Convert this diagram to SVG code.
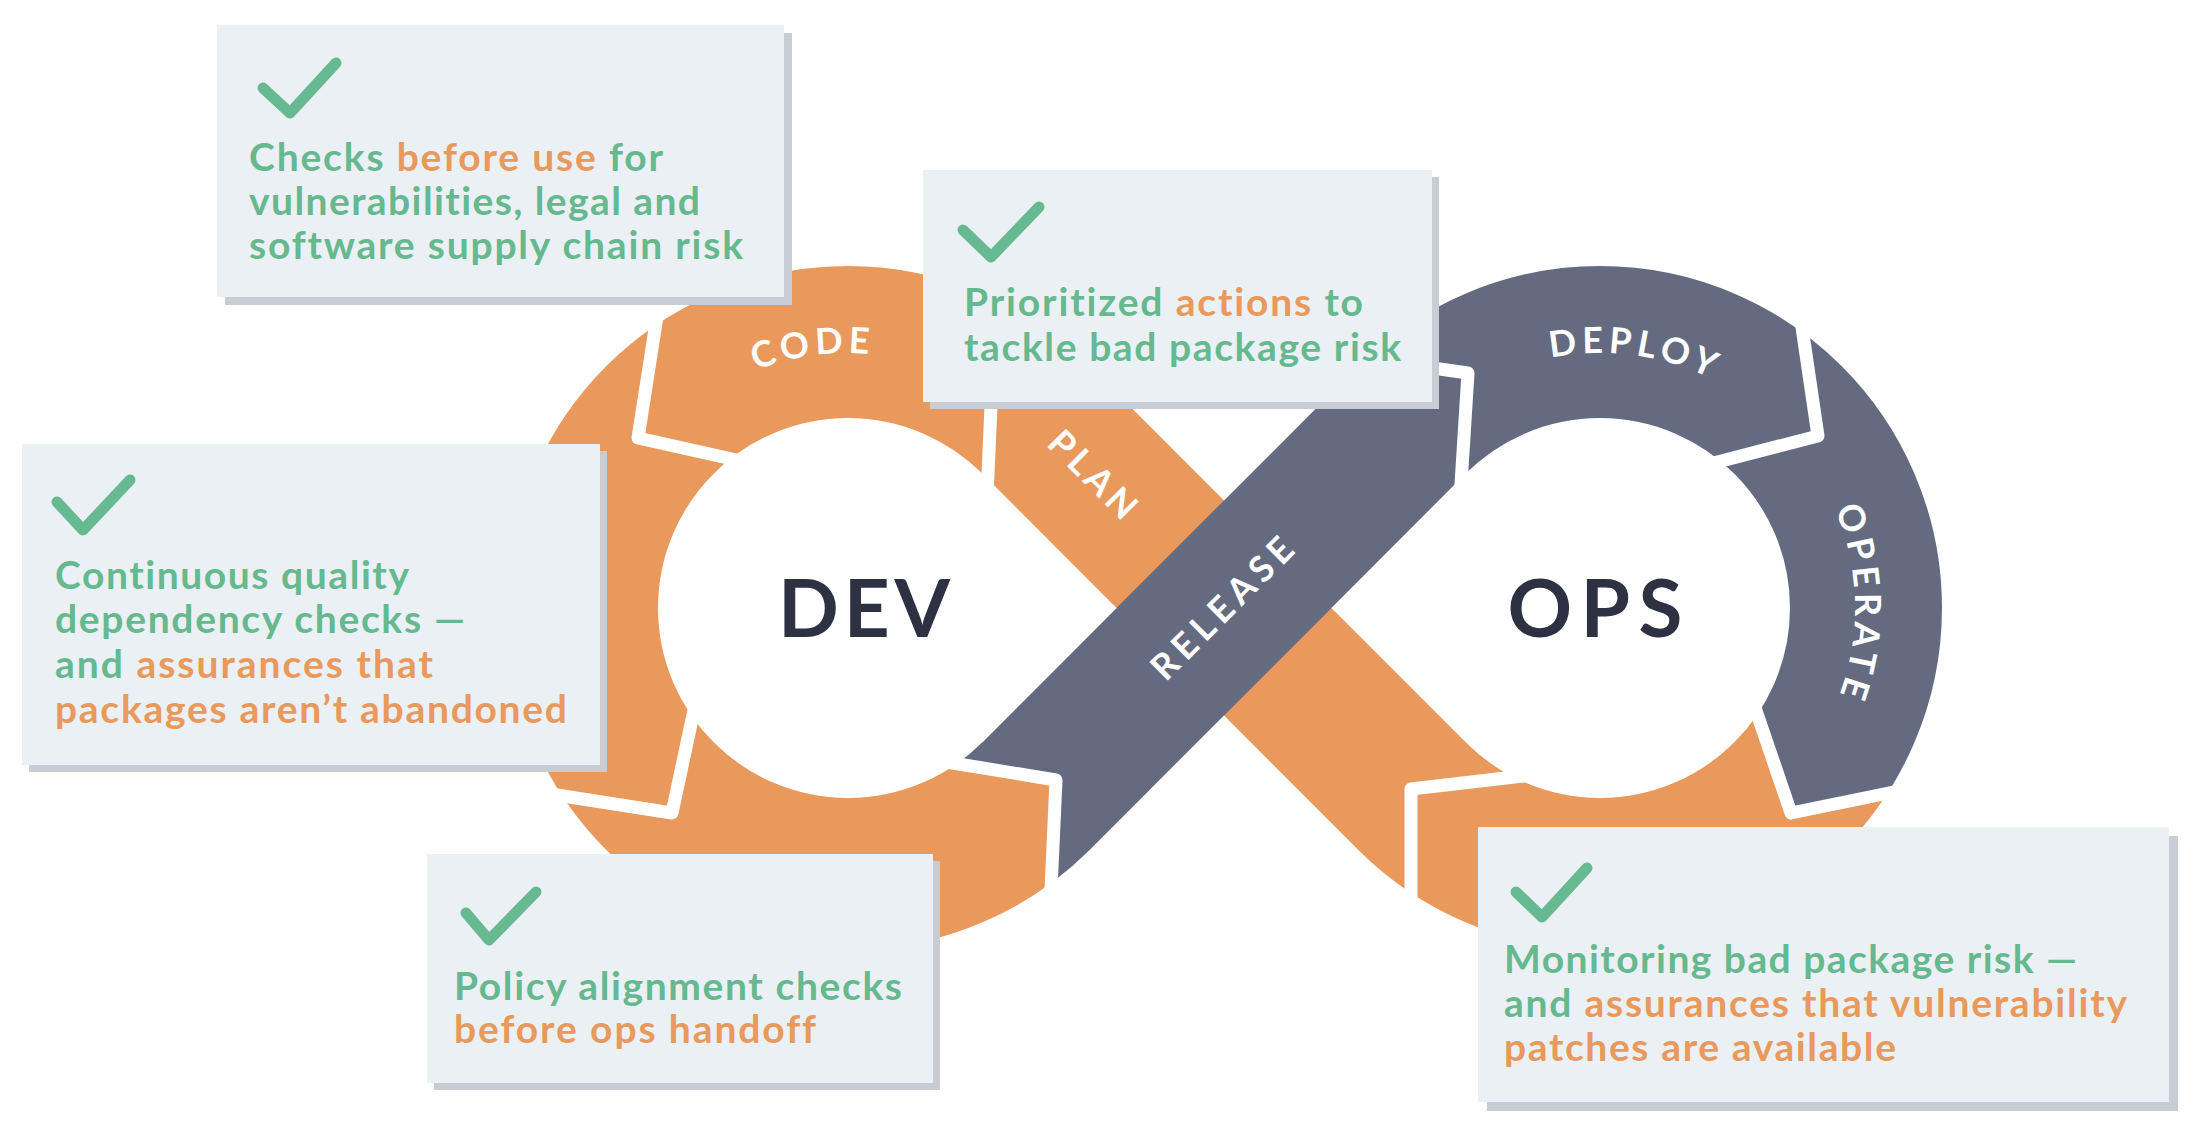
<svg xmlns="http://www.w3.org/2000/svg" width="2192" height="1130" viewBox="0 0 2192 1130">
<defs>
<style>
.box{fill:#EBF0F4}
.shadow{fill:#C9CDD3}
.check{fill:none;stroke:#67B991;stroke-width:11;stroke-linecap:round;stroke-linejoin:round}
.t{font-family:Lato,'Open Sans','Liberation Sans',sans-serif;font-weight:700;font-size:39px;fill:#66B98F;font-variant-ligatures:none}
.o{fill:#E8995B}
.lbl{font-family:Lato,'Open Sans','Liberation Sans',sans-serif;font-weight:700;font-size:36px;fill:#FFFFFF;letter-spacing:5px;font-variant-ligatures:none}
.big{font-family:Lato,'Open Sans','Liberation Sans',sans-serif;font-weight:700;font-size:80px;fill:#2D3142}
.div{fill:none;stroke:#FFFFFF;stroke-width:13;stroke-linejoin:round}
</style>
<mask id="band" maskUnits="userSpaceOnUse" x="0" y="0" width="2192" height="1130">
<rect x="0" y="0" width="2192" height="1130" fill="#000"/>
<path d="M1036.1,796.1 L1411.9,419.9 A266,266 0 1 1 1411.9,796.1 L1036.1,419.9 A266,266 0 1 0 1036.1,796.1 Z" fill="none" stroke="#fff" stroke-width="152" stroke-linejoin="round"/>
</mask>
<path id="arcCode" d="M613.0,511.6 A253,253 0 0 1 1049.0,452.7"/>
<path id="arcDeploy" d="M1399.3,452.3 A253,253 0 0 1 1835.2,512.0"/>
<path id="arcOperate" d="M1723.1,385.9 A253,253 0 0 1 1730.8,825.7"/>
</defs>
<rect x="0" y="0" width="2192" height="1130" fill="#FFFFFF"/>

<g id="infinity-loop" mask="url(#band)">
<rect x="0" y="0" width="2192" height="1130" fill="#E8995B"/>
<polygon id="ops-side" fill="#646A80" points="928,759 1056,780 1050,920 1150,920 1150,789.5 1466,473.5 1600,608 1743,671 1791,813 1938,783 2150,783 2150,80 1300,80 1300,424.5 982.4,742.1"/>
<g id="connectors">
<polyline class="div" points="1090,362 992,383 986,520"/>
<polyline class="div" points="658,310 638,438 750,463"/>
<polyline class="div" points="544,793 672,813 697,696"/>
<polyline class="div" points="928,759 1056,780 1050,912"/>
<polyline class="div" points="1340,355 1468,373 1460,500"/>
<polyline class="div" points="1799,307 1818,436 1702,466"/>
<polyline class="div" points="1749,690 1791,813 1918,787"/>
<polyline class="div" points="1540,774 1411,789 1411,919"/>
</g>
</g>

<g id="stage-labels">
<text class="lbl" text-anchor="middle"><textPath href="#arcCode" startOffset="50%">CODE</textPath></text>
<text class="lbl" text-anchor="middle"><textPath href="#arcDeploy" startOffset="50%">DEPLOY</textPath></text>
<text class="lbl" text-anchor="middle"><textPath href="#arcOperate" startOffset="50%">OPERATE</textPath></text>
<text class="lbl" text-anchor="middle" transform="translate(1095,476) rotate(45)" x="0" y="13">PLAN</text>
<text class="lbl" text-anchor="middle" transform="translate(1224,606) rotate(-45)" x="0" y="13" style="letter-spacing:6px">RELEASE</text>
</g>

<g id="dev"><text class="big" x="864" y="637" text-anchor="middle" textLength="172" lengthAdjust="spacing">DEV</text></g>
<g id="ops"><text class="big" x="1595" y="637" text-anchor="middle" textLength="175" lengthAdjust="spacing">OPS</text></g>

<g id="box-before-use">
<rect class="shadow" x="225" y="33" width="567" height="272"/>
<rect class="box" x="217" y="25" width="567" height="272"/>
<polyline class="check" points="263,88 290,113 336,63"/>
<text class="t" x="249" y="171" textLength="414" lengthAdjust="spacing">Checks <tspan class="o">before use</tspan> for</text>
<text class="t" x="249" y="215" textLength="451" lengthAdjust="spacing">vulnerabilities, legal and</text>
<text class="t" x="249" y="259" textLength="494" lengthAdjust="spacing">software supply chain risk</text>
</g>

<g id="box-prioritized">
<rect class="shadow" x="930" y="177" width="509" height="232"/>
<rect class="box" x="923" y="170" width="509" height="232"/>
<polyline class="check" points="963,230 991,257 1039,207"/>
<text class="t" x="964" y="316" textLength="399" lengthAdjust="spacing">Prioritized <tspan class="o">actions</tspan> to</text>
<text class="t" x="964" y="361" textLength="437" lengthAdjust="spacing">tackle bad package risk</text>
</g>

<g id="box-continuous">
<rect class="shadow" x="29" y="451" width="578" height="321"/>
<rect class="box" x="22" y="444" width="578" height="321"/>
<polyline class="check" points="57,502 83,530 130,480"/>
<text class="t" x="55" y="589" textLength="354" lengthAdjust="spacing">Continuous quality</text>
<text class="t" x="55" y="633" textLength="410" lengthAdjust="spacing">dependency checks —</text>
<text class="t" x="55" y="678" textLength="378" lengthAdjust="spacing">and <tspan class="o">assurances that</tspan></text>
<text class="t o" x="55" y="723" textLength="512" lengthAdjust="spacing">packages aren’t abandoned</text>
</g>

<g id="box-policy">
<rect class="shadow" x="434" y="861" width="506" height="229"/>
<rect class="box" x="427" y="854" width="506" height="229"/>
<polyline class="check" points="466,913 489,940 536,892"/>
<text class="t" x="454" y="1000" textLength="448" lengthAdjust="spacing">Policy alignment checks</text>
<text class="t o" x="454" y="1043" textLength="362" lengthAdjust="spacing">before ops handoff</text>
</g>

<g id="box-monitoring">
<rect class="shadow" x="1487" y="836" width="691" height="275"/>
<rect class="box" x="1478" y="827" width="691" height="275"/>
<polyline class="check" points="1516,892 1542,917 1587,868"/>
<text class="t" x="1504" y="973" textLength="573" lengthAdjust="spacing">Monitoring bad package risk —</text>
<text class="t" x="1504" y="1017" textLength="623" lengthAdjust="spacing">and <tspan class="o">assurances that vulnerability</tspan></text>
<text class="t o" x="1504" y="1061" textLength="392" lengthAdjust="spacing">patches are available</text>
</g>
</svg>
